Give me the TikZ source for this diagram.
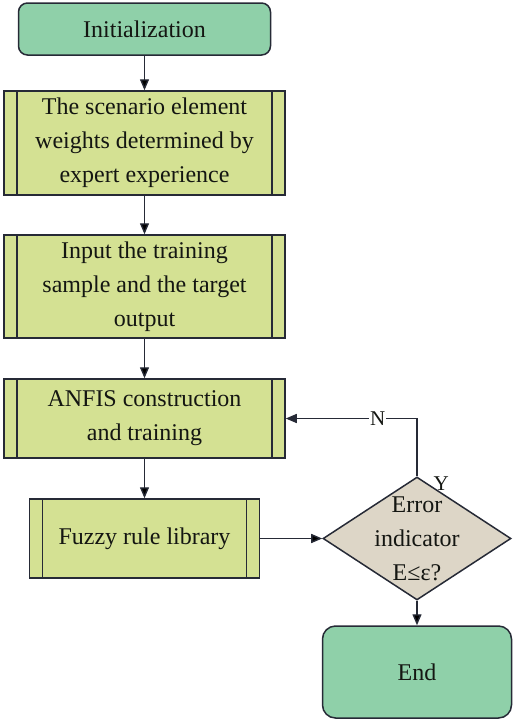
\documentclass[tikz,border=0pt]{standalone}
\usepackage{fontspec}
\setmainfont{Liberation Serif}
\usetikzlibrary{arrows.meta,shapes.geometric,calc}
\definecolor{termfill}{HTML}{8FD0A9}
\definecolor{procfill}{HTML}{D4E193}
\definecolor{decfill}{HTML}{DDD6C7}
\definecolor{linecol}{HTML}{262A36}
\definecolor{textcol}{HTML}{141612}

\begin{document}
\begin{tikzpicture}[x=1pt,y=-1pt,
  font=\fontsize{24}{34}\selectfont,
  every node/.style={text=textcol},
  term/.style={draw=linecol,line width=1.5pt,fill=termfill,inner sep=0pt},
  proc/.style={draw=linecol,line width=1.5pt,fill=procfill,inner sep=0pt,align=center,
    path picture={\draw[linecol,line width=1.5pt]
      ([xshift=13pt]path picture bounding box.north west) -- ([xshift=13pt]path picture bounding box.south west)
      ([xshift=-13pt]path picture bounding box.north east) -- ([xshift=-13pt]path picture bounding box.south east);}},
  decision/.style={draw=linecol,line width=1.5pt,fill=decfill,diamond,inner sep=0pt,
    minimum width=188pt,minimum height=123pt},
  arr/.style={draw=linecol,line width=1.4pt,-{Triangle[length=11pt,width=9pt]}},
  small/.style={font=\fontsize{21}{24}\selectfont}]
\useasboundingbox (0,0) rectangle (514,723);

\node[term,rounded corners=9pt,minimum width=252pt,minimum height=52pt] (init) at (144.5,29) {Initialization};
\node[proc,minimum width=281pt,minimum height=104pt] (scen) at (144.5,143)
  {The scenario element\\weights determined by\\expert experience};
\node[proc,minimum width=281pt,minimum height=103pt] (input) at (144.5,286.5)
  {Input the training\\sample and the target\\output};
\node[proc,minimum width=281pt,minimum height=79pt] (anfis) at (144.5,418.5)
  {ANFIS construction\\and training};
\node[proc,minimum width=230pt,minimum height=79pt] (fuzzy) at (144.5,538.5)
  {Fuzzy rule library};
\node[decision,label={[align=center]center:{Error\\indicator\\E≤ε?}}] (dec) at (417,538.5) {};
\node[term,rounded corners=13pt,minimum width=189pt,minimum height=92pt] (end) at (417,672) {End};

\path[arr]
(init) edge (scen)
(scen) edge (input)
(input) edge (anfis)
(anfis) edge (fuzzy)
(fuzzy) edge (dec)
(dec) edge (end);
\draw[arr] (dec.north) -- (dec.north |- anfis.east)
  -- node[pos=.3,fill=white,inner sep=1pt,small]{N} (anfis.east);
\node[small,anchor=west] (yes) at ([xshift=13pt,yshift=-7pt]dec.north) {Y};
\end{tikzpicture}
\end{document}
